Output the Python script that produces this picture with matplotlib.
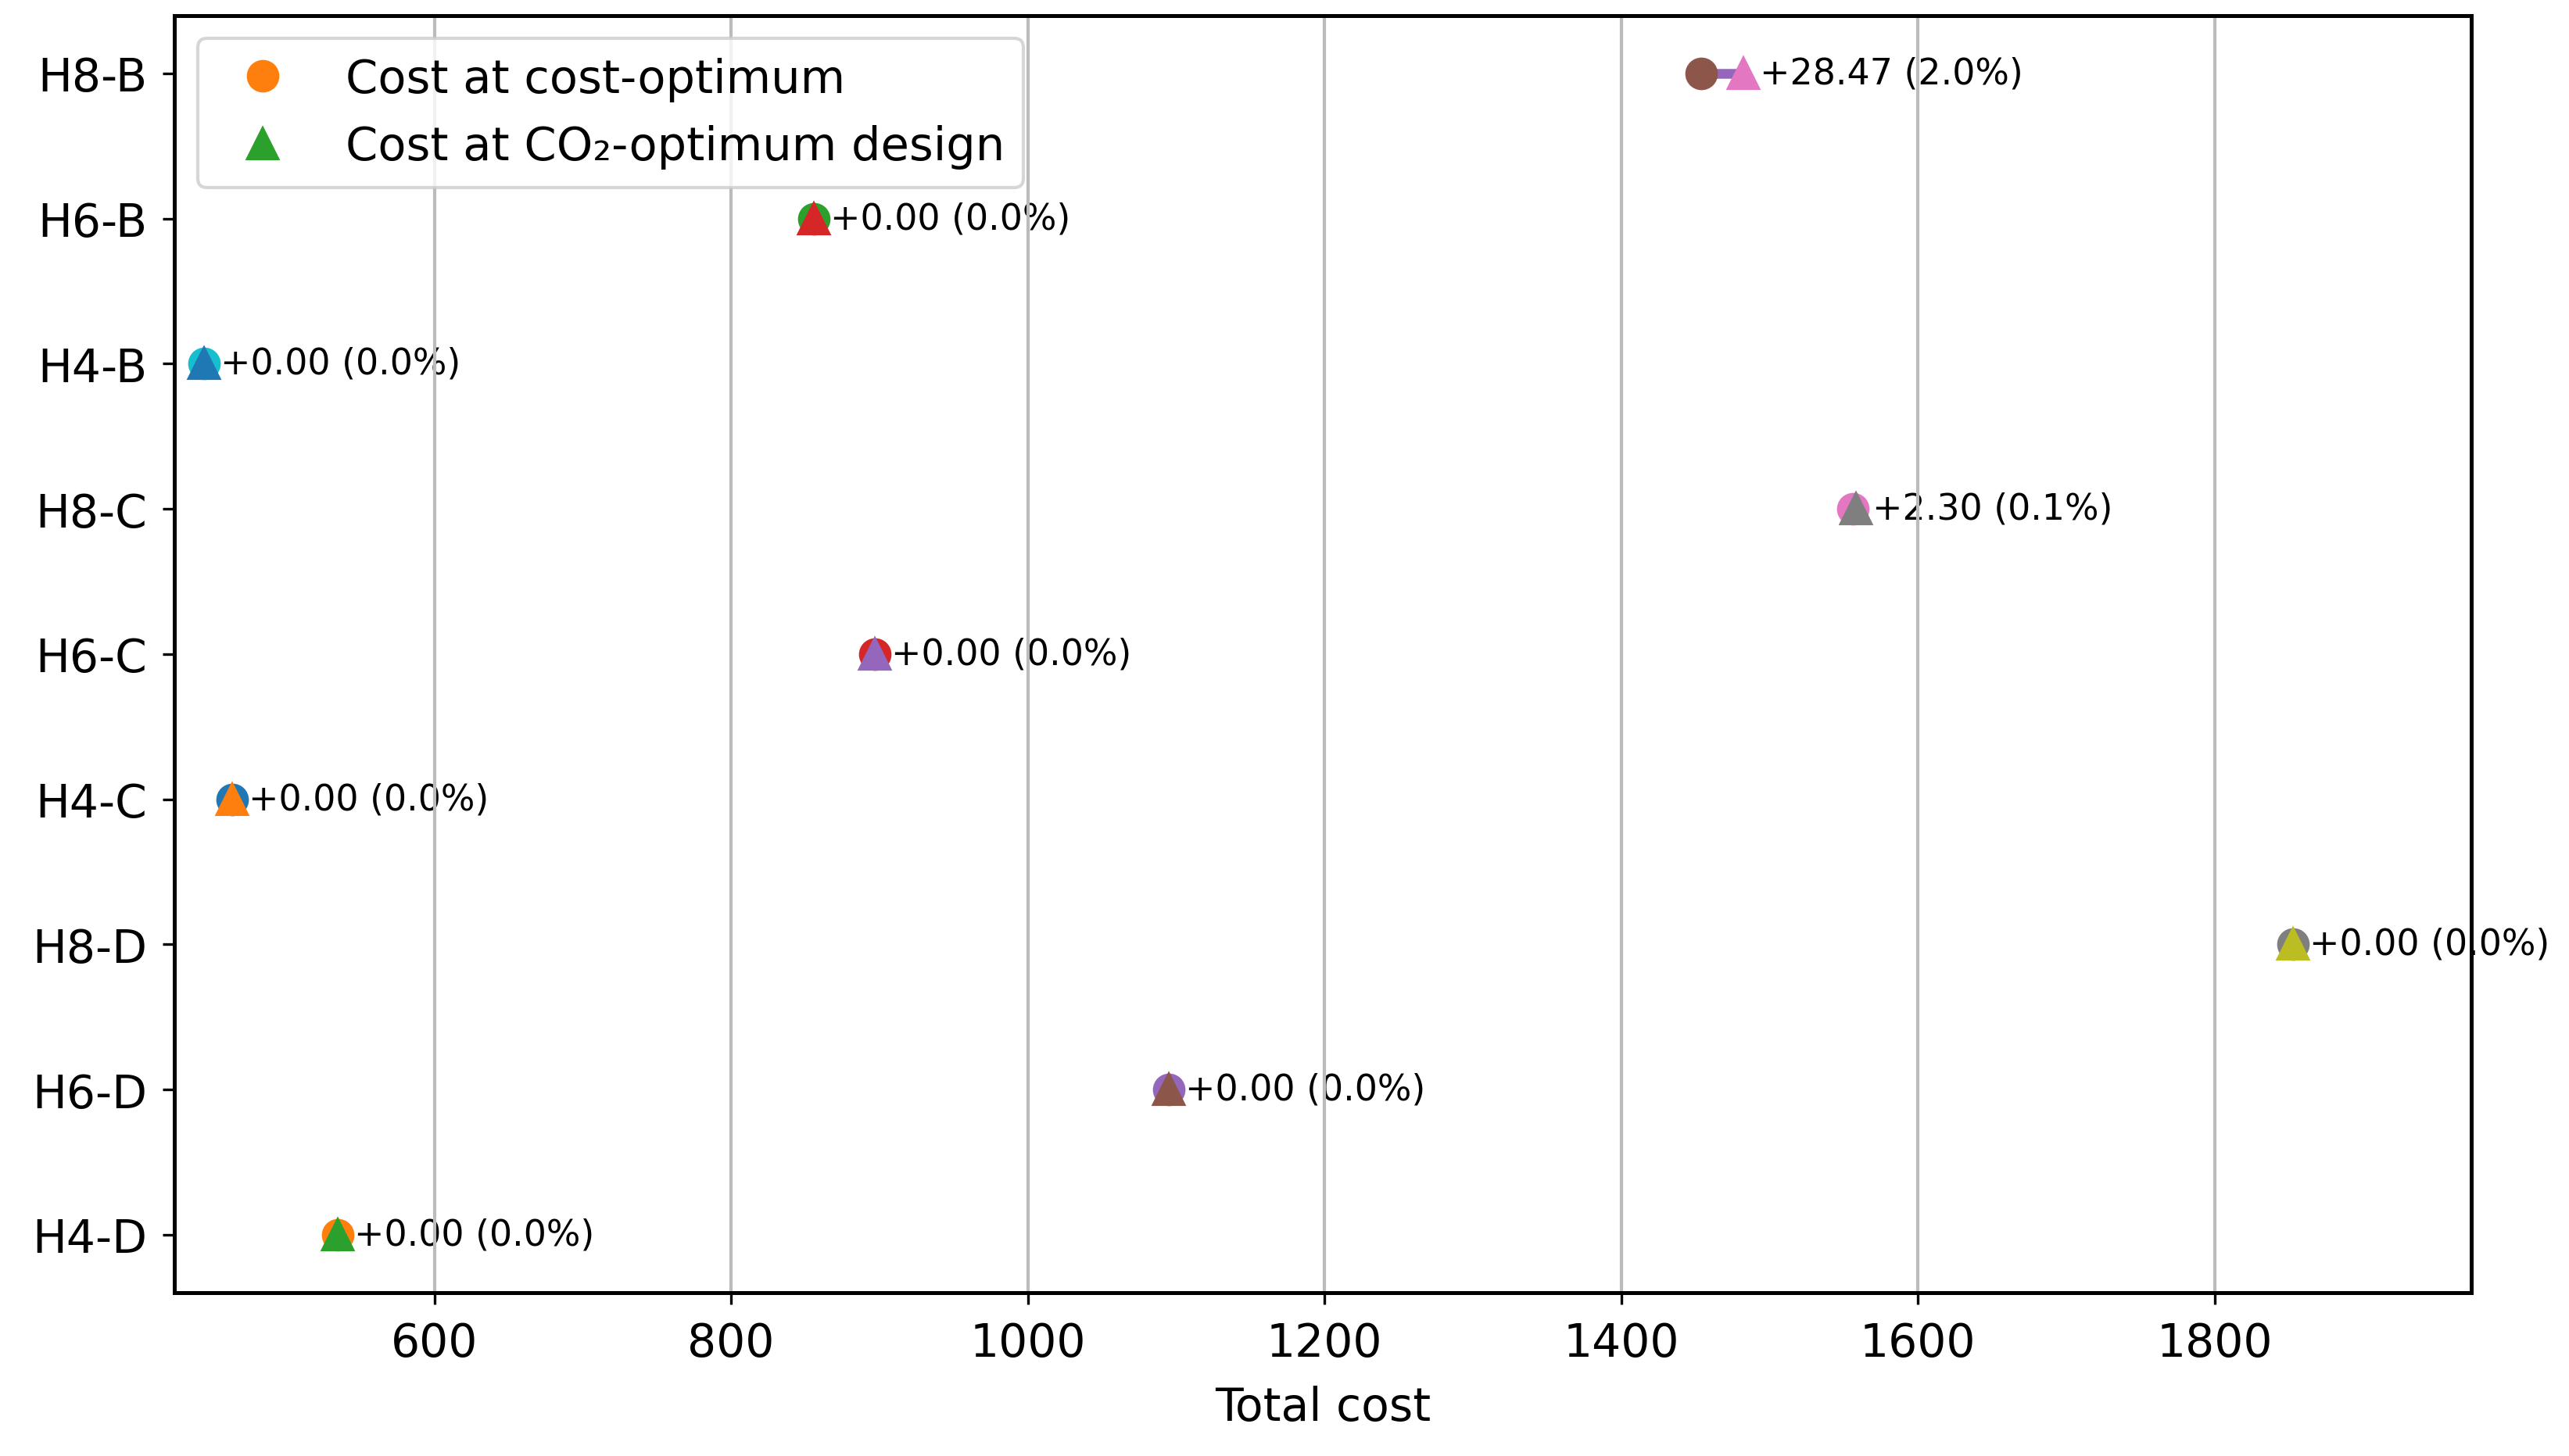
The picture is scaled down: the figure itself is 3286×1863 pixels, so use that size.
import matplotlib
matplotlib.use('Agg')
from matplotlib import pyplot as plt

# bottom to top
cases = ['H4-D', 'H6-D', 'H8-D', 'H4-C', 'H6-C', 'H8-C', 'H4-B', 'H6-B', 'H8-B']
cost_at_cost_opt = [535.0, 1095.0, 1853.0, 464.0, 897.0, 1556.0, 445.0, 856.0, 1454.0]
cost_at_co2_opt = [535.0, 1095.0, 1853.0, 464.0, 897.0, 1558.30, 445.0, 856.0, 1482.47]

fig, ax = plt.subplots(figsize=(3286 / 300, 1864 / 300), dpi=300)
fig.subplots_adjust(left=0.068, right=0.962, top=0.989, bottom=0.112)

for i, (case, c, d) in enumerate(zip(cases, cost_at_cost_opt, cost_at_co2_opt)):
    ax.plot([c, d], [i, i], linewidth=3)
    ax.plot(c, i, 'o', markersize=9, label='Cost at cost-optimum' if i == 0 else None)
    ax.plot(d, i, '^', markersize=9, label='Cost at CO₂-optimum design' if i == 0 else None)
    diff = d - c
    pct = diff / c * 100
    ax.annotate(f'+{diff:.2f} ({pct:.1f}%)', xy=(d, i), xytext=(5, 0),
                textcoords='offset points', ha='left', va='center',
                fontsize=11, zorder=1)

ax.set_yticks(range(len(cases)))
ax.set_yticklabels(cases)
ax.set_xlim(425, 1973)
ax.set_xlabel('Total cost', fontsize=14, labelpad=6)
ax.tick_params(axis='both', labelsize=14, pad=5)
ax.grid(axis='x', color='#bbbbbb', linewidth=1)
for spine in ax.spines.values():
    spine.set_linewidth(1.2)
ax.legend(loc='upper left', fontsize=14.2)

plt.savefig('out.png', dpi=300)
